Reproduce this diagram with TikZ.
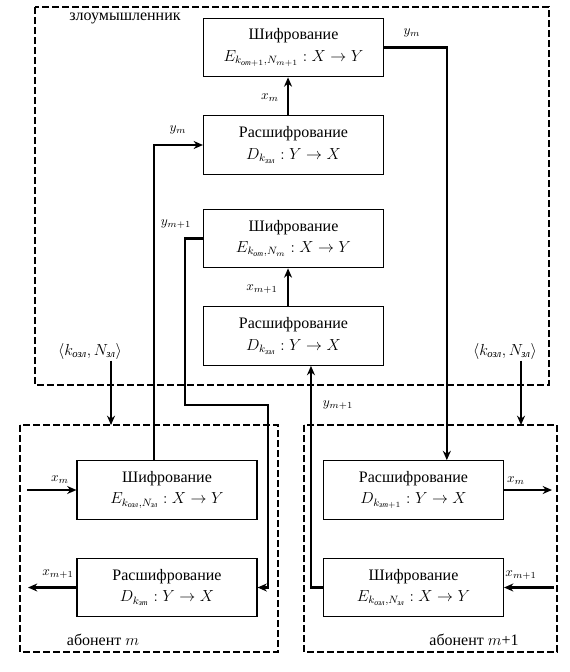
\documentclass[tikz,border=0pt]{standalone}
\usepackage{amsmath}
\usepackage{fontspec}
\setmainfont{Liberation Serif}
\usetikzlibrary{arrows.meta}
\newcommand{\cyr}[1]{\text{\itshape #1}}

\begin{document}
\begin{tikzpicture}[x=0.75pt,y=-0.75pt,
	block/.style={draw,line width=0.8pt,minimum width=135pt,minimum height=44pt,align=center,inner sep=2pt,font=\fontsize{12}{16}\selectfont},
	party/.style={draw,line width=1.3pt,dash pattern=on 5pt off 2.5pt},
	flow/.style={line width=2pt,-{Stealth[length=7pt,width=6pt]}},
	keyflow/.style={line width=1.4pt,-{Stealth[length=7pt,width=6pt]}},
	lbl/.style={inner sep=1pt,font=\fontsize{10}{12}\selectfont},
	tag/.style={inner sep=1pt,font=\fontsize{12}{14}\selectfont}]
	\useasboundingbox (0,0) rectangle (569,672);

	% parties
	\draw[party] (35,7) rectangle (549,385);
	\draw[party] (20,425) rectangle (278,652);
	\draw[party] (304,425) rectangle (557,652);
	\node[tag] (att) at (125,18) {злоумышленник};
	\node[tag] (abm) at (103,640) {абонент $m$};
	\node[tag] (abn) at (474,640) {абонент $m$+1};

	% attacker
	\node[block] (enc1) at (293.5,47.5) {Шифрование\\$E_{k_{\cyr{от}+1},N_{m+1}}:X\to Y$};
	\node[block] (dec1) at (293.5,145) {Расшифрование\\$D_{k_{\cyr{ззл}}}:Y\to X$};
	\node[block] (enc2) at (293.5,238.5) {Шифрование\\$E_{k_{\cyr{от}},N_m}:X\to Y$};
	\node[block] (dec2) at (293.5,336) {Расшифрование\\$D_{k_{\cyr{ззл}}}:Y\to X$};

	% subscribers
	\node[block] (lenc) at (167,490) {Шифрование\\$E_{k_{\cyr{озл}},N_{\cyr{зл}}}:X\to Y$};
	\node[block] (ldec) at (167,587.5) {Расшифрование\\$D_{k_{\cyr{зт}}}:Y\to X$};
	\node[block] (rdec) at (413.5,490) {Расшифрование\\$D_{k_{\cyr{зт}+1}}:Y\to X$};
	\node[block] (renc) at (413.5,587.5) {Шифрование\\$E_{k_{\cyr{озл}},N_{\cyr{зл}}}:X\to Y$};

	% keys
	\node[lbl,font=\fontsize{12}{14}\selectfont] (keyl) at (90,351) {$\langle k_{\cyr{озл}},N_{\cyr{зл}}\rangle$};
	\node[lbl,font=\fontsize{12}{14}\selectfont] (keyr) at (505,351) {$\langle k_{\cyr{озл}},N_{\cyr{зл}}\rangle$};
	\coordinate (ltop) at (111,425);
	\coordinate (rtop) at (521,425);
	\draw[keyflow] (keyl.south -| ltop) -- (ltop);
	\draw[keyflow] (keyr.south -| rtop) -- (rtop);

	% connectors
	\draw[flow] (enc1.east) -| ([xshift=25pt]rdec.north);
	\draw[flow] ([xshift=-4.1pt]dec1.north) -- ([xshift=-4.1pt]enc1.south);
	\draw[flow] ([xshift=-9.75pt]lenc.north) |- (dec1.west);
	\coordinate (c1) at (185,405);
	\coordinate (c2) at (268,405);
	\draw[flow] (enc2.west) -| (c1) -- (c2) |- (ldec.east);
	\draw[flow] ([xshift=-4.1pt]dec2.north) -- ([xshift=-4.1pt]enc2.south);
	\draw[flow] (renc.west) -| ([xshift=13.1pt]dec2.south);

	\coordinate (xin) at (27,490);
	\coordinate (xout) at (28,587.5);
	\coordinate (rxout) at (552,490);
	\coordinate (rxin) at (554,587.5);
	\draw[flow] (xin) -- (lenc.west);
	\draw[flow] (ldec.west) -- (xout);
	\draw[flow] (rdec.east) -- (rxout);
	\draw[flow] (rxin) -- (renc.east);

	% labels
	\node[lbl] (l1) at (412,33) {$y_m$};
	\node[lbl] (l2) at (270,98) {$x_m$};
	\node[lbl] (l3) at (178,130) {$y_m$};
	\node[lbl] (l4) at (176,224) {$y_{m+1}$};
	\node[lbl] (l5) at (262,289) {$x_{m+1}$};
	\node[lbl] (l6) at (338,405) {$y_{m+1}$};
	\node[lbl] (l7) at (60,480) {$x_m$};
	\node[lbl] (l8) at (58,574) {$x_{m+1}$};
	\node[lbl] (l9) at (516,481) {$x_m$};
	\node[lbl] (l10) at (521,575) {$x_{m+1}$};
\end{tikzpicture}
\end{document}
